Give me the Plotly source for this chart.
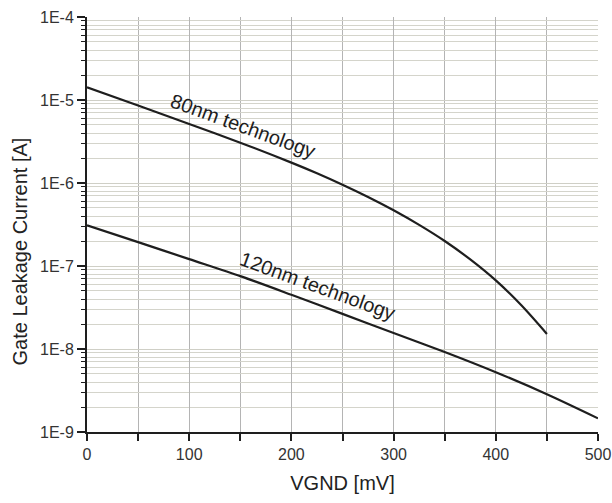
import math
import plotly.graph_objects as go

# Data
vgnd_80 = [0, 50, 100, 150, 200, 225, 250, 275, 300, 325, 350, 375, 400, 425, 450]
leak_80nm = [1.42e-5, 8.6e-6, 5.13e-6, 3.06e-6, 1.76e-6, 1.31e-6, 9.53e-7, 6.78e-7, 4.69e-7,
             3.13e-7, 2.0e-7, 1.2e-7, 6.7e-8, 3.36e-8, 1.52e-8]
vgnd_120 = [0, 50, 100, 150, 200, 250, 300, 350, 400, 450, 500]
leak_120nm = [3.1e-7, 1.94e-7, 1.21e-7, 7.55e-8, 4.5e-8, 2.65e-8, 1.56e-8, 9.2e-9, 5.25e-9, 2.85e-9, 1.46e-9]

y_tickvals = [1e-9, 1e-8, 1e-7, 1e-6, 1e-5, 1e-4]
y_ticktext = ["1E-9", "1E-8", "1E-7", "1E-6", "1E-5", "1E-4"]
x_tickvals = [0, 100, 200, 300, 400, 500]

x_title = "VGND [mV]"
y_title = "Gate Leakage Current [A]"
label_80 = "80nm technology"
label_120 = "120nm technology"
label_80_pos = (153, 4.9e-6)
label_120_pos = (226, 5.8e-8)

FONT = "Liberation Sans, Arial, sans-serif"
INK = "#1e1e1e"

fig = go.Figure()
fig.add_trace(go.Scatter(x=vgnd_80, y=leak_80nm, mode="lines",
                         line=dict(color=INK, width=2.2, shape="spline", smoothing=0.8),
                         showlegend=False, hoverinfo="skip"))
fig.add_trace(go.Scatter(x=vgnd_120, y=leak_120nm, mode="lines",
                         line=dict(color=INK, width=2.2, shape="spline", smoothing=0.8),
                         showlegend=False, hoverinfo="skip"))

for text, (xx, yy) in [(label_80, label_80_pos), (label_120, label_120_pos)]:
    fig.add_annotation(x=xx, y=math.log10(yy), text=text, showarrow=False,
                       textangle=20, font=dict(family=FONT, size=20, color=INK))

# y-axis title sits a bit below the middle of the axis in the reference
fig.add_annotation(xref="paper", yref="paper", x=-0.131, y=0.435, text=y_title,
                   showarrow=False, textangle=-90, xanchor="center", yanchor="middle",
                   font=dict(family=FONT, size=20, color="#222222"))

fig.update_layout(
    width=612, height=503,
    margin=dict(l=87, r=14, t=17, b=71),
    paper_bgcolor="white", plot_bgcolor="white",
    font=dict(family=FONT, color="#333333"),
)

fig.update_xaxes(
    range=[0, 500], tickvals=x_tickvals, ticks="outside", ticklen=7, tickwidth=1.5, tickcolor=INK,
    showline=True, linecolor=INK, linewidth=2, zeroline=False, automargin=False,
    showgrid=True, gridcolor="#b4b4b4", gridwidth=1,
    minor=dict(dtick=50, ticks="outside", ticklen=7, tickwidth=1.5, tickcolor=INK,
               showgrid=True, gridcolor="#b4b4b4"),
    tickfont=dict(size=16, color="#333333", family=FONT),
    title=dict(text=x_title, font=dict(size=20, color="#222222", family=FONT), standoff=14),
)
fig.update_yaxes(
    type="log", range=[-9, -4], tickvals=y_tickvals, ticktext=y_ticktext,
    ticks="outside", ticklen=8, tickwidth=1.5, tickcolor=INK,
    showline=True, linecolor=INK, linewidth=2, zeroline=False, automargin=False,
    showgrid=True, gridcolor="#cfcfc6", gridwidth=1,
    minor=dict(dtick="D1", ticks="outside", ticklen=4, tickwidth=1, tickcolor=INK,
               showgrid=True, gridcolor="#d4d4cb"),
    tickfont=dict(size=16, color="#333333", family=FONT),
)

fig.write_html("out.html", config={"displayModeBar": False},
               post_script="document.body.style.margin='0';document.body.style.overflow='hidden';")
